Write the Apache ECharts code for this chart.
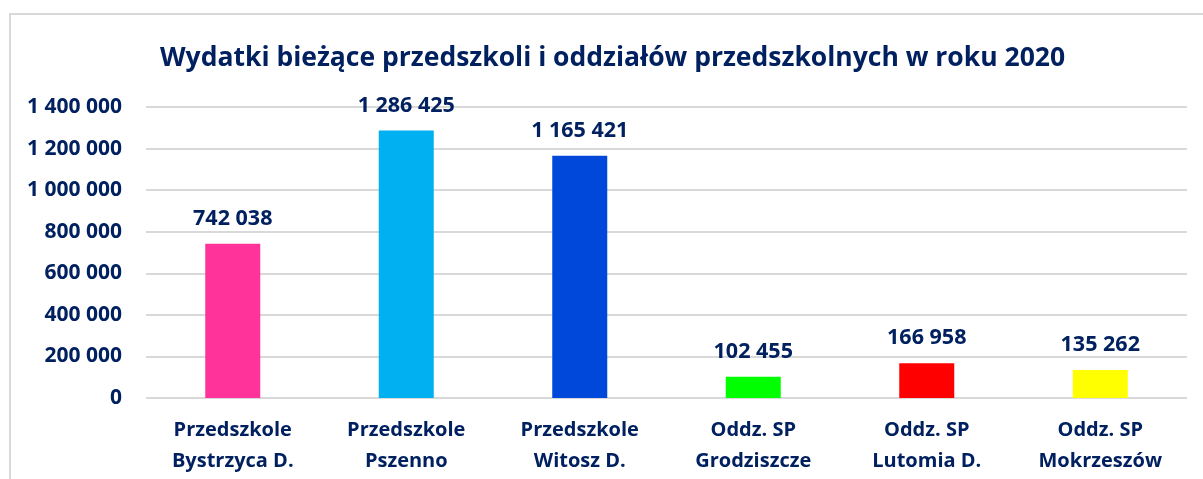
<!DOCTYPE html>
<html>
<head>
<meta charset="utf-8">
<script src="https://cdn.jsdelivr.net/npm/echarts@6/dist/echarts.min.js"></script>
<style>
  html, body { margin: 0; padding: 0; background: #fff; }
  #chart { width: 1203px; height: 479px; }
</style>
</head>
<body>
<div id="chart"></div>
<script>
const categories = [
  "Przedszkole\nBystrzyca D.",
  "Przedszkole\nPszenno",
  "Przedszkole\nWitosz D.",
  "Oddz. SP\nGrodziszcze",
  "Oddz. SP\nLutomia D.",
  "Oddz. SP\nMokrzeszów",
];
const values = [742038, 1286425, 1165421, 102455, 166958, 135262];
const barColors = ["#FF3399", "#00B0F0", "#0048DA", "#00FF00", "#FF0000", "#FFFF00"];
const yTicks = { min: 0, max: 1400000, interval: 200000 };

const navy = "#002060";
const fontFamily = "'Open Sans', 'Noto Sans', sans-serif";

// "1286425" -> "1 286 425"
const fmt = (v) => String(v).replace(/\B(?=(\d{3})+(?!\d))/g, " ");

const chartInstance = echarts.init(document.getElementById("chart"));
const option = {
  animation: false,
  title: {
    text: "Wydatki bieżące przedszkoli i oddziałów przedszkolnych w roku 2020",
    left: 155,
    top: 40,
    textStyle: {
      color: navy,
      fontFamily: fontFamily,
      fontWeight: "bold",
      fontSize: 26.5,
    },
  },
  graphic: [
    {
      type: "polyline",
      shape: { points: [[10, 479], [10, 14], [1203, 14]] },
      style: { stroke: "#D9D9D9", lineWidth: 2, fill: null },
    },
  ],
  grid: {
    left: 146,
    right: 16,
    top: 107,
    bottom: 81,
  },
  xAxis: {
    type: "category",
    data: categories,
    axisLine: { show: false },
    axisTick: { show: false },
    axisLabel: {
      color: navy,
      fontFamily: fontFamily,
      fontWeight: "bold",
      fontSize: 20,
      lineHeight: 31,
      margin: 17,
    },
  },
  yAxis: {
    type: "value",
    min: yTicks.min,
    max: yTicks.max,
    interval: yTicks.interval,
    axisLine: { show: false },
    axisTick: { show: false },
    splitLine: { lineStyle: { color: "#D9D9D9", width: 2 } },
    axisLabel: {
      color: navy,
      fontFamily: fontFamily,
      fontWeight: "bold",
      fontSize: 21,
      margin: 24,
      formatter: fmt,
    },
  },
  series: [
    {
      type: "bar",
      barWidth: 55,
      data: values.map((v, i) => ({ value: v, itemStyle: { color: barColors[i] } })),
      label: {
        show: true,
        position: "top",
        distance: 14,
        color: navy,
        fontFamily: fontFamily,
        fontWeight: "bold",
        fontSize: 21.5,
        formatter: (p) => fmt(p.value),
      },
    },
  ],
};
chartInstance.setOption(option);
</script>
</body>
</html>
